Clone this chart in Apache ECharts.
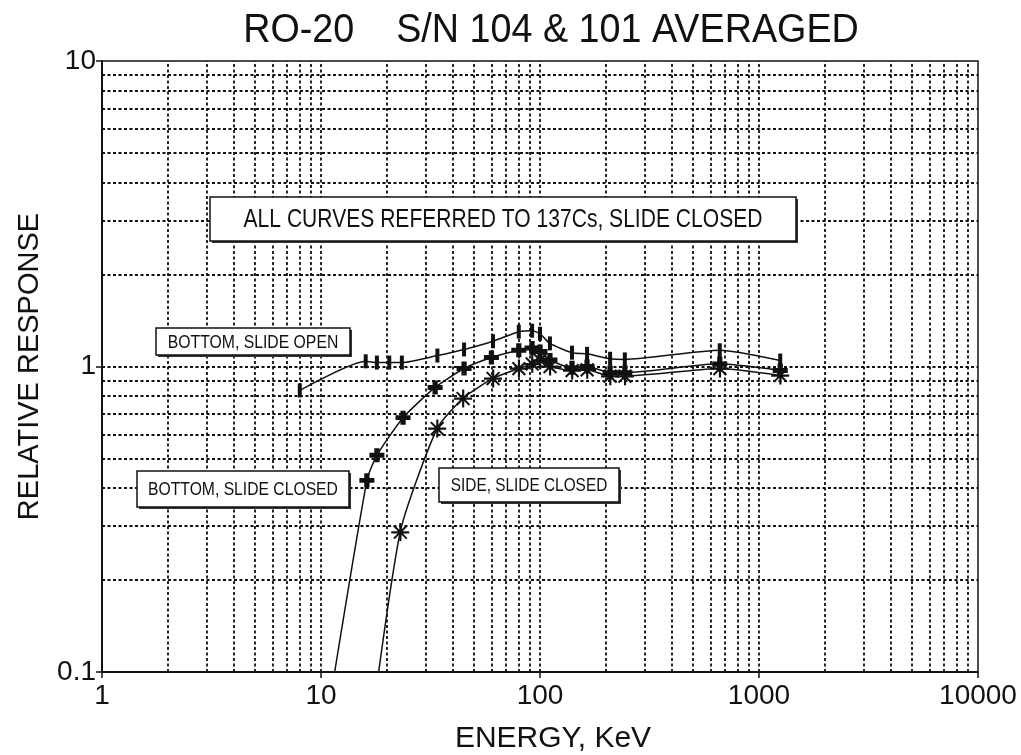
<!DOCTYPE html>
<html>
<head>
<meta charset="utf-8">
<script src="https://cdn.jsdelivr.net/npm/echarts@6/dist/echarts.min.js"></script>
<style>html,body{margin:0;padding:0;background:#fff}#c{width:1021px;height:755px}</style>
</head>
<body>
<div id="c"></div>
<script>
// ---- data (energy keV, relative response) ----
const openEnergy   = [8, 16, 18, 20.5, 23.4, 34, 45, 61, 80, 92, 100, 111, 140, 164, 209, 244, 662, 1250];
const openResp     = [0.835, 1.04, 1.03, 1.03, 1.03, 1.086, 1.137, 1.21, 1.30, 1.31, 1.28, 1.19, 1.11, 1.10, 1.06, 1.055, 1.13, 1.046];
const closedEnergy = [10, 16.2, 18, 23.7, 33.2, 45, 60, 80, 92, 100, 111, 140, 164, 209, 244, 662, 1250];
const closedResp   = [0.053, 0.424, 0.512, 0.68, 0.854, 0.985, 1.07, 1.13, 1.15, 1.12, 1.05, 0.99, 1.0, 0.955, 0.955, 1.02, 0.97];
const sideEnergy   = [16, 23, 33.9, 44.5, 61, 80, 92, 100, 111, 140, 164, 209, 244, 662, 1250];
const sideResp     = [0.048, 0.287, 0.627, 0.786, 0.914, 0.985, 1.02, 1.05, 1.0, 0.97, 0.975, 0.93, 0.93, 0.985, 0.935];
const xTickLabels  = ['1', '10', '100', '1000', '10000'];
const yTickLabels  = ['0.1', '1', '10'];
const xGrid = [2,3,4,5,6,7,8,9,10,20,30,40,50,60,70,80,90,100,200,300,400,500,600,700,800,900,1000,2000,3000,4000,5000,6000,7000,8000,9000];
const yGrid = [0.2,0.3,0.4,0.5,0.6,0.7,0.8,0.9,1,2,3,4,5,6,7,8,9];

const FONT = "'Liberation Sans', Arial, sans-serif";
const pair = (xs, ys) => xs.map((x, i) => [x, ys[i]]);

const asterisk = 'path://M9,0h2.4v20h-2.4z M0,9h20v2.4h-20z M2.2,3.8L3.8,2.2L18,16.4L16.4,18Z M16.4,2.2L18,3.8L3.8,18L2.2,16.4Z';
const thickPlus = 'path://M6.5,0h7v6.5h6.5v7h-6.5v6.5h-7v-6.5h-6.5v-7h6.5z';

const chart = echarts.init(document.getElementById('c'), null, {renderer: 'canvas'});
const gridLine = {color: '#111', width: 1.8, type: [3, 2.5]};

function box(x, y, w, h, text, size, sx) {
  return {
    type: 'group', x: x, y: y, z: 100,
    children: [
      {type: 'rect', z: 100, shape: {x: 2, y: 2, width: w, height: h}, style: {fill: '#333'}},
      {type: 'rect', z: 101, shape: {x: 0, y: 0, width: w, height: h}, style: {fill: '#fff', stroke: '#111', lineWidth: 1.5}},
      {type: 'text', z: 102, x: w / 2, y: h / 2 + 1, scaleX: sx,
       style: {text: text, font: size + 'px ' + FONT, fill: '#111', align: 'center', verticalAlign: 'middle'}}
    ]
  };
}

chart.setOption({
  animation: false,
  backgroundColor: '#fff',
  grid: {left: 102, right: 43, top: 61, bottom: 83, show: true, borderColor: '#111', borderWidth: 1.5,
         backgroundColor: 'transparent', outerBoundsMode: 'none', containLabel: false},
  xAxis: {
    type: 'log', logBase: 10, min: 1, max: 10000,
    name: 'ENERGY, KeV', nameLocation: 'middle', nameGap: 52,
    nameTextStyle: {fontFamily: FONT, fontSize: 30, color: '#111', padding: [0, 0, 0, 26]},
    axisLine: {lineStyle: {color: '#111', width: 2}},
    axisTick: {show: true, length: 6, lineStyle: {color: '#111', width: 1.5}},
    axisLabel: {fontFamily: FONT, fontSize: 28, color: '#111', margin: 10,
      formatter: v => xTickLabels[Math.round(Math.log10(v))]},
    splitLine: {show: false}
  },
  yAxis: {
    type: 'log', logBase: 10, min: 0.1, max: 10,
    name: 'RELATIVE RESPONSE', nameLocation: 'middle', nameGap: 58,
    nameTextStyle: {fontFamily: FONT, fontSize: 29, color: '#111'},
    axisLine: {lineStyle: {color: '#111', width: 2}},
    axisTick: {show: true, length: 6, lineStyle: {color: '#111', width: 1.5}},
    axisLabel: {fontFamily: FONT, fontSize: 28, color: '#111', margin: 6,
      formatter: v => yTickLabels[Math.round(Math.log10(v)) + 1]},
    splitLine: {show: false}
  },
  graphic: [
    {type: 'text', x: 551, y: 31, scaleX: 0.92, z: 100,
     style: {text: 'RO-20    S/N 104 & 101 AVERAGED', font: '41px ' + FONT, fill: '#111', align: 'center', verticalAlign: 'middle'}},
    box(210, 197, 586, 44, 'ALL CURVES REFERRED TO 137Cs, SLIDE CLOSED', 26, 0.81),
    box(156, 328, 194, 27, 'BOTTOM, SLIDE OPEN', 19, 0.83),
    box(137, 471, 212, 36, 'BOTTOM, SLIDE CLOSED', 19, 0.826),
    box(439, 468, 180, 34, 'SIDE, SLIDE CLOSED', 19, 0.81)
  ],
  series: [
    {
      type: 'line', name: 'grid', data: [], z: 1, silent: true,
      markLine: {
        silent: true, symbol: 'none', animation: false, label: {show: false},
        lineStyle: gridLine,
        data: xGrid.map(v => ({xAxis: v})).concat(yGrid.map(v => ({yAxis: v})))
      }
    },
    {
      type: 'line', name: 'BOTTOM, SLIDE OPEN', data: pair(openEnergy, openResp), z: 5,
      smooth: 0.2, clip: true, symbol: 'rect', symbolSize: [4, 14], showAllSymbol: true,
      lineStyle: {color: '#111', width: 1.5}, itemStyle: {color: '#111'}
    },
    {
      type: 'line', name: 'BOTTOM, SLIDE CLOSED', data: pair(closedEnergy, closedResp), z: 5,
      smooth: 0.2, clip: true, symbol: thickPlus, symbolSize: [15, 14], showAllSymbol: true,
      lineStyle: {color: '#111', width: 1.5}, itemStyle: {color: '#111'}
    },
    {
      type: 'line', name: 'SIDE, SLIDE CLOSED', data: pair(sideEnergy, sideResp), z: 5,
      smooth: 0.2, clip: true, symbol: asterisk, symbolSize: 18, showAllSymbol: true,
      lineStyle: {color: '#111', width: 1.5}, itemStyle: {color: '#111'}
    }
  ]
});
</script>
</body>
</html>
